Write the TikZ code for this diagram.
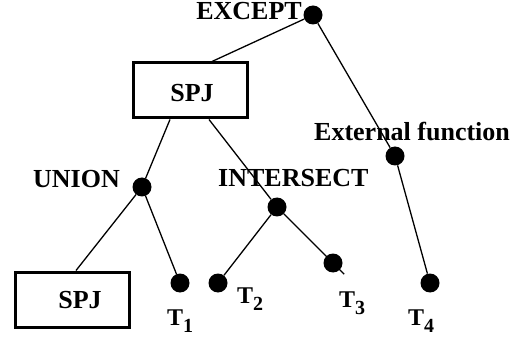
\documentclass[tikz,border=0pt]{standalone}
\usepackage{fontspec}
\setmainfont{Liberation Serif}
\usetikzlibrary{calc}
\tikzset{
  dot/.style={circle,fill=black,draw=none,minimum size=19pt,inner sep=0pt},
  box/.style={draw=black,line width=3pt,minimum width=114pt,minimum height=55pt,inner sep=0pt},
  lbl/.style={inner sep=0pt,font=\fontsize{26}{30}\selectfont\bfseries},
  tlbl/.style={inner sep=0pt,font=\fontsize{24}{28}\selectfont\bfseries},
  conn/.style={line width=1.3pt,black}
}
\newcommand{\tsub}[1]{T\raisebox{-7pt}{\fontsize{20}{22}\selectfont #1}}
\begin{document}
\begin{tikzpicture}[x=1pt,y=-1pt]
\useasboundingbox (0,0) rectangle (514,339);
% boxes
\node[box] (spj1) at (190,90.5) {};
\node[box] (spj2) at (72.5,299.5) {};
% dots
\node[dot] (ex) at (313,15) {};
\node[dot] (ext) at (395,156) {};
\node[dot] (un) at (142,187) {};
\node[dot] (in) at (277,207) {};
\node[dot] (t1) at (180,283) {};
\node[dot] (t2) at (218,283) {};
\node[dot] (t3) at (333,263) {};
\node[dot] (t4) at (430,283) {};
% labels
\node[lbl,anchor=base east] (lex) at (302,20) {EXCEPT};
\node[lbl,anchor=base west] (lext) at (314,141) {External function};
\node[lbl,anchor=base west] (lun) at (33,188) {UNION};
\node[lbl,anchor=base west] (lin) at (218,187) {INTERSECT};
\node[lbl,anchor=base] (lspj1) at (192,102) {SPJ};
\node[lbl,anchor=base] (lspj2) at (80,308) {SPJ};
\node[tlbl,anchor=base west] (lt1) at (167,325) {\tsub{1}};
\node[tlbl,anchor=base west] (lt2) at (237,303) {\tsub{2}};
\node[tlbl,anchor=base west] (lt3) at (339,307) {\tsub{3}};
\node[tlbl,anchor=base west] (lt4) at (408,325) {\tsub{4}};
% connectors
\draw[conn] (ex) -- ([xshift=22pt]spj1.north);
\draw[conn] (ex) -- (ext);
\draw[conn] (ext) -- (t4);
\draw[conn] ([xshift=-20pt]spj1.south) -- (un);
\draw[conn] ([xshift=19pt]spj1.south) -- (in);
\draw[conn] (un) -- ([xshift=3.5pt]spj2.north);
\draw[conn] (un) -- (t1);
\draw[conn] (in) -- (t2);
\coordinate (t3tail) at ($(in.center)!1.2!(t3.center)$);
\draw[conn] (in) -- (t3tail);
\end{tikzpicture}
\end{document}
